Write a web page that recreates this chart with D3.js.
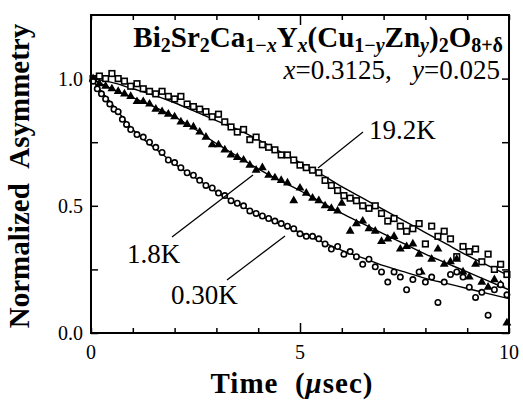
<!DOCTYPE html>
<html>
<head>
<meta charset="utf-8">
<script src="https://cdn.jsdelivr.net/npm/d3@7"></script>
<style>
  body { margin: 0; background: #fff; }
  svg { display: block; font-family: "Liberation Serif", "DejaVu Serif", serif; }
</style>
</head>
<body>
<script>
// fit curves
const fitT = [0,0.5,1,1.5,2,2.5,3,3.5,4,4.5,5,5.5,6,6.5,7,7.5,8,8.5,9,9.5,10];
const fit192 = [1.00,0.985,0.96,0.935,0.905,0.87,0.835,0.80,0.76,0.715,0.67,0.625,0.575,0.53,0.485,0.44,0.395,0.35,0.305,0.265,0.225];
const fit18  = [1.00,0.96,0.925,0.89,0.85,0.80,0.745,0.695,0.645,0.60,0.56,0.515,0.47,0.43,0.39,0.35,0.31,0.275,0.24,0.205,0.17];
const fit030 = [1.00,0.90,0.80,0.73,0.665,0.61,0.555,0.51,0.465,0.43,0.395,0.36,0.325,0.295,0.265,0.24,0.215,0.195,0.175,0.155,0.135];

// data points [time, asymmetry]
const pts192 = [[0.05,1.0],[0.2,1.01],[0.35,1.0],[0.5,1.02],[0.65,1.0],[0.8,0.99],[0.95,0.97],[1.1,0.98],[1.25,0.96],[1.4,0.95],[1.55,0.94],[1.7,0.95],[1.85,0.93],[2.0,0.92],[2.15,0.93],[2.3,0.9],[2.45,0.89],[2.6,0.88],[2.75,0.87],[2.9,0.85],[3.05,0.86],[3.2,0.83],[3.35,0.81],[3.5,0.79],[3.65,0.8],[3.8,0.76],[3.95,0.77],[4.1,0.74],[4.25,0.73],[4.4,0.72],[4.55,0.7],[4.7,0.7],[4.85,0.68],[5.0,0.66],[5.15,0.65],[5.3,0.64],[5.45,0.63],[5.6,0.6],[5.75,0.58],[5.9,0.56],[6.05,0.54],[6.2,0.53],[6.35,0.52],[6.5,0.5],[6.65,0.49],[6.8,0.5],[6.95,0.47],[7.1,0.44],[7.25,0.45],[7.4,0.42],[7.55,0.4],[7.7,0.41],[7.85,0.43],[8.0,0.35],[8.15,0.42],[8.3,0.38],[8.45,0.4],[8.6,0.37],[8.75,0.3],[8.9,0.34],[9.05,0.32],[9.2,0.33],[9.35,0.28],[9.5,0.31],[9.65,0.25],[9.8,0.27],[9.95,0.23]];
const pts18 = [[0.05,1.0],[0.2,0.98],[0.35,0.97],[0.5,0.96],[0.65,0.95],[0.8,0.94],[0.95,0.93],[1.1,0.91],[1.25,0.91],[1.4,0.9],[1.55,0.88],[1.7,0.87],[1.85,0.86],[2.0,0.85],[2.15,0.83],[2.3,0.82],[2.45,0.81],[2.6,0.79],[2.75,0.77],[2.9,0.74],[3.05,0.74],[3.2,0.72],[3.35,0.7],[3.5,0.69],[3.65,0.68],[3.8,0.66],[3.95,0.64],[4.1,0.65],[4.25,0.62],[4.4,0.61],[4.55,0.6],[4.7,0.59],[4.85,0.52],[5.0,0.57],[5.15,0.55],[5.3,0.53],[5.45,0.52],[5.6,0.5],[5.75,0.49],[5.9,0.48],[6.0,0.51],[6.2,0.4],[6.35,0.43],[6.5,0.44],[6.65,0.41],[6.8,0.4],[6.95,0.36],[7.1,0.37],[7.25,0.38],[7.4,0.33],[7.55,0.34],[7.7,0.35],[7.85,0.31],[7.9,0.24],[8.15,0.29],[8.3,0.33],[8.45,0.27],[8.6,0.28],[8.75,0.29],[8.9,0.24],[9.05,0.22],[9.2,0.27],[9.35,0.2],[9.5,0.18],[9.65,0.21],[9.8,0.19],[9.95,0.04]];
const pts030 = [[0.05,0.99],[0.15,0.96],[0.25,0.94],[0.35,0.92],[0.45,0.9],[0.55,0.88],[0.65,0.87],[0.75,0.84],[0.85,0.82],[0.95,0.8],[1.1,0.78],[1.25,0.77],[1.4,0.75],[1.55,0.73],[1.7,0.71],[1.85,0.68],[2.0,0.67],[2.15,0.65],[2.3,0.63],[2.45,0.62],[2.6,0.6],[2.75,0.58],[2.9,0.57],[3.05,0.55],[3.2,0.54],[3.35,0.52],[3.5,0.51],[3.65,0.5],[3.8,0.48],[3.95,0.47],[4.1,0.46],[4.25,0.45],[4.4,0.44],[4.55,0.43],[4.7,0.42],[4.85,0.41],[5.0,0.39],[5.15,0.38],[5.3,0.38],[5.45,0.37],[5.6,0.35],[5.75,0.33],[5.9,0.34],[6.05,0.31],[6.2,0.32],[6.35,0.3],[6.5,0.27],[6.65,0.29],[6.8,0.26],[6.95,0.24],[7.1,0.2],[7.25,0.24],[7.4,0.22],[7.55,0.17],[7.7,0.21],[7.85,0.24],[8.0,0.2],[8.15,0.22],[8.3,0.12],[8.45,0.2],[8.6,0.23],[8.75,0.24],[8.9,0.22],[9.05,0.18],[9.2,0.14],[9.35,0.16],[9.5,0.07],[9.65,0.17],[9.8,0.19],[9.95,0.15]];

const xTicks = [0, 5, 10];
const xTickLabels = ["0", "5", "10"];
const yTicks = [0, 0.5, 1.0];
const yTickLabels = ["0.0", "0.5", "1.0"];

const W = 523, H = 400;
const margin = {top: 15, right: 14, bottom: 67, left: 91};

const svg = d3.select("body").append("svg")
  .attr("width", W).attr("height", H)
  .style("background", "#fff");

const x = d3.scaleLinear().domain([0, 10]).range([margin.left, W - margin.right]);
const y = d3.scaleLinear().domain([0, 1.25]).range([H - margin.bottom, margin.top]);

const plot = svg.append("g");
plot.append("clipPath").attr("id", "clip")
  .append("rect")
  .attr("x", margin.left).attr("y", margin.top)
  .attr("width", W - margin.left - margin.right)
  .attr("height", H - margin.top - margin.bottom);

// fit lines
const line = d3.line()
  .x((d, i) => x(fitT[i]))
  .y(d => y(d))
  .curve(d3.curveMonotoneX);

[fit192, fit18, fit030].forEach(f => {
  plot.append("path")
    .attr("d", line(f))
    .attr("fill", "none")
    .attr("stroke", "#000")
    .attr("stroke-width", 1.4)
    .attr("clip-path", "url(#clip)");
});

// open squares 19.2K
plot.selectAll(".sq").data(pts192).enter().append("rect")
  .attr("x", d => x(d[0]) - 2.8)
  .attr("y", d => y(d[1]) - 2.8)
  .attr("width", 5.6).attr("height", 5.6)
  .attr("fill", "#fff").attr("stroke", "#000").attr("stroke-width", 1.6);

// filled triangles 1.8K
plot.selectAll(".tri").data(pts18).enter().append("path")
  .attr("d", d3.symbol().type(d3.symbolTriangle).size(34))
  .attr("transform", d => "translate(" + x(d[0]) + "," + y(d[1]) + ")")
  .attr("fill", "#000");

// open circles 0.30K
plot.selectAll(".ci").data(pts030).enter().append("circle")
  .attr("cx", d => x(d[0]))
  .attr("cy", d => y(d[1]))
  .attr("r", 2.7)
  .attr("fill", "#fff").attr("stroke", "#000").attr("stroke-width", 1.6);

// frame + inward ticks
const axes = svg.append("g");
axes.append("rect")
  .attr("x", margin.left).attr("y", margin.top)
  .attr("width", W - margin.left - margin.right)
  .attr("height", H - margin.top - margin.bottom)
  .attr("fill", "none").attr("stroke", "#000").attr("stroke-width", 2);

const bottomAx = d3.axisBottom(x).tickValues(d3.range(0, 11)).tickSize(-5).tickFormat("");
const topAx = d3.axisTop(x).tickValues(d3.range(0, 11)).tickSize(-5).tickFormat("");
const leftAx = d3.axisLeft(y).tickValues([0, 0.25, 0.5, 0.75, 1.0]).tickSize(-7).tickFormat("");
const rightAx = d3.axisRight(y).tickValues([0, 0.25, 0.5, 0.75, 1.0]).tickSize(-7).tickFormat("");

[[bottomAx, "translate(0," + y(0) + ")"], [topAx, "translate(0," + margin.top + ")"],
 [leftAx, "translate(" + margin.left + ",0)"], [rightAx, "translate(" + (W - margin.right) + ",0)"]]
  .forEach(([ax, tr]) => {
    const g = axes.append("g").attr("transform", tr).call(ax);
    g.select(".domain").remove();
    g.selectAll("line").attr("stroke", "#000").attr("stroke-width", 1.5);
  });
// longer ticks at 5
axes.selectAll("g.tick").filter(d => d === 5).select("line")
  .attr("y2", function() { return +d3.select(this).attr("y2") * 2; });

// tick labels
svg.selectAll(".xl").data(xTicks).enter().append("text")
  .attr("x", d => x(d)).attr("y", y(0) + 26)
  .attr("text-anchor", "middle")
  .style("font-size", "20px")
  .text((d, i) => xTickLabels[i]);

svg.selectAll(".yl").data(yTicks).enter().append("text")
  .attr("x", margin.left - 8).attr("y", d => y(d) + 7)
  .attr("text-anchor", "end")
  .style("font-size", "20px")
  .text((d, i) => yTickLabels[i]);

// axis titles
const xt = svg.append("text")
  .attr("x", 292).attr("y", 393)
  .attr("text-anchor", "middle")
  .style("font-size", "29px").style("font-weight", "bold")
  .style("letter-spacing", "1px");
xt.append("tspan").text("Time\u00a0\u00a0(");
xt.append("tspan").style("font-style", "italic").text("\u03bc");
xt.append("tspan").text("sec)");

svg.append("text")
  .attr("transform", "translate(29,176) rotate(-90)")
  .attr("text-anchor", "middle")
  .style("font-size", "29px").style("font-weight", "bold")
  .text("Normalized\u00a0\u00a0Asymmetry");

// compound formula
const title = svg.append("text")
  .attr("x", 503).attr("y", 47)
  .attr("text-anchor", "end")
  .style("font-size", "29px").style("font-weight", "bold");
// [text, sub?, italic?]
const parts = [["Bi"],["2",1],["Sr"],["2",1],["Ca"],["1\u2212",1],["x",1,1],["Y"],["x",1,1],["(Cu"],["1\u2212",1],["y",1,1],["Zn"],["y",1,1],[")"],["2",1],["O"],["8+\u03b4",1]];
let lowered = false;
parts.forEach(p => {
  const t = title.append("tspan").text(p[0]);
  const sub = !!p[1];
  if (sub && !lowered) t.attr("dy", 5);
  if (!sub && lowered) t.attr("dy", -5);
  lowered = sub;
  if (sub) t.style("font-size", "20px");
  if (p[2]) t.style("font-style", "italic");
});

const sub = svg.append("text")
  .attr("x", 500).attr("y", 79)
  .attr("text-anchor", "end")
  .style("font-size", "27px");
sub.append("tspan").style("font-style", "italic").text("x");
sub.append("tspan").text("=0.3125,\u00a0\u00a0\u00a0");
sub.append("tspan").style("font-style", "italic").text("y");
sub.append("tspan").text("=0.025");

// temperature labels with leader lines
const labels = [
  {text: "19.2K", tx: 369, ty: 139, x1: 363, y1: 132, x2: 318, y2: 168},
  {text: "1.8K", tx: 127, ty: 263, x1: 172, y1: 237, x2: 253, y2: 175},
  {text: "0.30K", tx: 171, ty: 304, x1: 227, y1: 280, x2: 285, y2: 236}
];
labels.forEach(l => {
  svg.append("line")
    .attr("x1", l.x1).attr("y1", l.y1).attr("x2", l.x2).attr("y2", l.y2)
    .attr("stroke", "#000").attr("stroke-width", 1.3);
  svg.append("text")
    .attr("x", l.tx).attr("y", l.ty)
    .style("font-size", "27px")
    .text(l.text);
});
</script>
</body>
</html>
